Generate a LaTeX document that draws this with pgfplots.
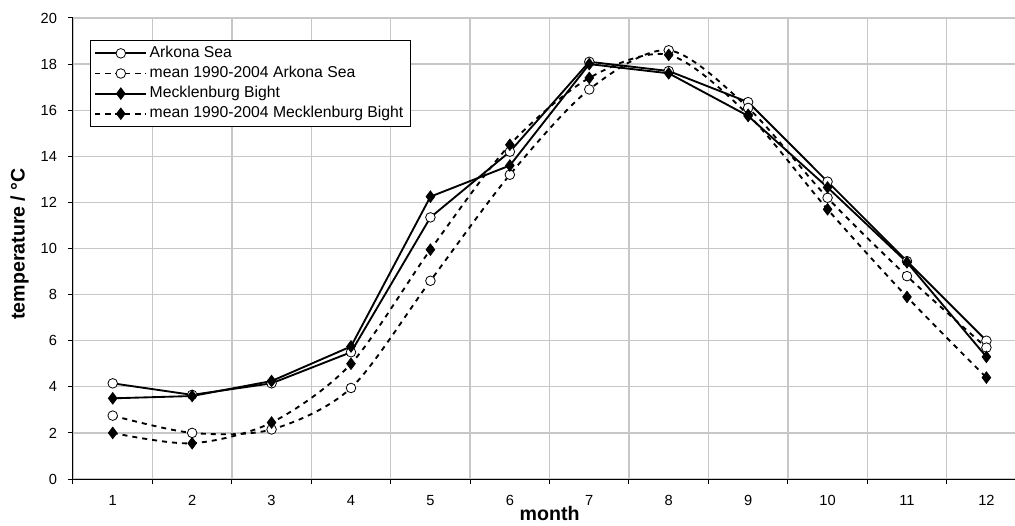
\documentclass[border=0pt]{standalone}
\usepackage{pgfplots}
\pgfplotsset{compat=1.18}
\usepackage{pgfplotstable}
\usepackage{fontspec}
\setmainfont{Liberation Sans}
\pgfplotstableread{
month ark meck mark mmeck
1 4.15 3.5 2.75 2.0
2 3.65 3.6 2.0 1.55
3 4.15 4.25 2.15 2.45
4 5.5 5.75 3.95 5.0
5 11.35 12.25 8.6 9.95
6 14.2 13.6 13.2 14.5
7 18.1 18.0 16.9 17.4
8 17.7 17.6 18.6 18.4
9 16.35 15.75 16.1 15.8
10 12.9 12.65 12.2 11.7
11 9.45 9.4 8.8 7.9
12 6.0 5.3 5.7 4.4
}\datatable
\begin{document}
\begin{tikzpicture}
\begin{axis}[
  scale only axis, width=706.5pt, height=345.75pt,
  xmin=0.5, xmax=12.36, ymin=0, ymax=20,
  axis lines*=left,
  axis line style={black, line width=0.75pt},
  xtick={1,...,12},
  major x tick style={draw=none},
  minor xtick={0.5,1.5,...,11.5},
  ytick={0,2,...,20},
  xminorgrids, ymajorgrids,
  grid style={draw=black!22, line width=1pt},
  minor grid style={draw=black!22, line width=1pt},
  tick align=outside,
  major tick length=4pt, minor tick length=4pt,
  tick style={black, line width=0.75pt},
  minor tick style={black, line width=0.75pt},
  /pgf/number format/assume math mode=true,
  tick label style={font=\fontsize{11}{13}\selectfont},
  xticklabel style={yshift=-5pt},
  yticklabel style={xshift=-4.5pt},
  xlabel={\bfseries month},
  ylabel={\bfseries temperature / °C},
  xlabel style={font=\fontsize{14.7}{16}\selectfont, at={(axis cs:6.5,0)}, anchor=base, yshift=-31pt},
  ylabel style={font=\fontsize{14.7}{16}\selectfont, at={(rel axis cs:0,0.51)}, anchor=center, yshift=40pt},
  legend style={at={(rel axis cs:0.0181,0.952)}, anchor=north west,
    draw=black, line width=0.75pt, fill=white,
    font=\fontsize{11.8}{12}\selectfont, inner xsep=3pt, inner ysep=2pt,
    row sep=0pt, nodes={inner xsep=2pt, inner ysep=2pt, text height=8.7pt, text depth=2.4pt}},
  legend cell align=left,
  legend image code/.code={\draw[mark repeat=2,mark phase=2,#1] plot coordinates {(0pt,0pt) (19pt,0pt) (38pt,0pt)};},
  every axis plot/.append style={line width=1.4pt},
]
\addplot[black, solid, mark=*, mark size=3.6pt, mark options={fill=white, line width=0.6pt, solid}] table[x=month, y=ark] {\datatable};
\addlegendentry{Arkona Sea}
\addplot[black, dash pattern=on 3.75pt off 3.75pt, smooth, mark=*, mark size=3.6pt, mark options={fill=white, line width=0.6pt, solid}] table[x=month, y=mark] {\datatable};
\addlegendentry{mean 1990-2004 Arkona Sea}
\addplot[black, solid, mark=diamond*, mark size=4.3pt, mark options={fill=black, line width=0.6pt, solid}] table[x=month, y=meck] {\datatable};
\addlegendentry{Mecklenburg Bight}
\addplot[black, dash pattern=on 3.75pt off 3.75pt, smooth, mark=diamond*, mark size=4.3pt, mark options={fill=black, line width=0.6pt, solid}] table[x=month, y=mmeck] {\datatable};
\addlegendentry{mean 1990-2004 Mecklenburg Bight}
\end{axis}
\pgfresetboundingbox
\path ([shift={(-54.75pt,-34.5pt)}]current axis.south west) rectangle ([shift={(0pt,13.5pt)}]current axis.north east);
\end{tikzpicture}
\end{document}
